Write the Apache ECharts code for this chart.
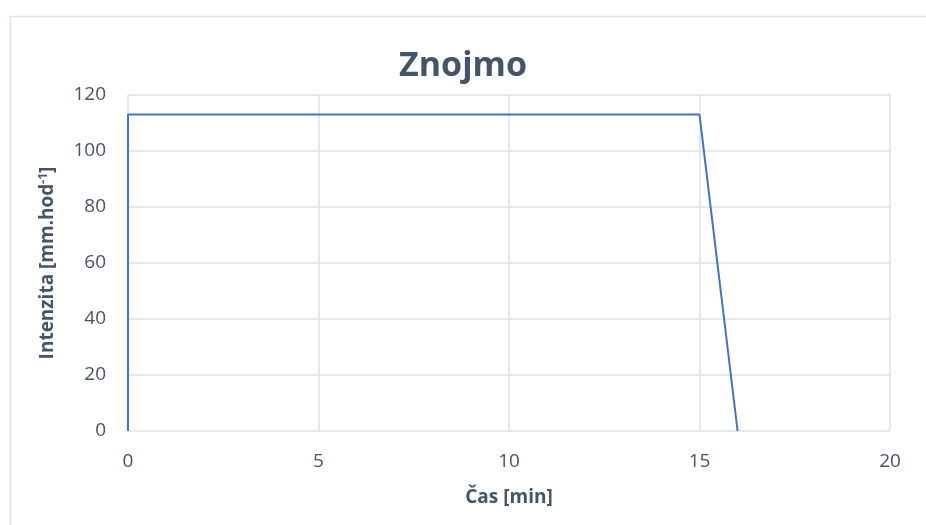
<!DOCTYPE html>
<html>
<head>
<meta charset="utf-8">
<script src="https://cdn.jsdelivr.net/npm/echarts@6/dist/echarts.min.js"></script>
<style>
html,body{margin:0;padding:0;background:#fff;}
#c{width:926px;height:525px;}
</style>
</head>
<body>
<div id="c"></div>
<script>
const titleText = "Znojmo";
const xName = "Čas [min]";
const timeMin = [0, 0, 15, 16];
const intensity = [0, 113, 113, 0];

const chart = echarts.init(document.getElementById('c'));
const txt = '#44546a';
const font = '"Open Sans", "Noto Sans", sans-serif';
chart.setOption({
  animation: false,
  backgroundColor: '#fff',
  graphic: [{
    type: 'rect', shape: {x: 10.5, y: 16.5, width: 940, height: 540},
    style: {fill: 'none', stroke: '#dde2ea', lineWidth: 1.5}, silent: true, z: -1
  }],
  title: {
    text: titleText, left: 'center', top: 44,
    textStyle: {color: txt, fontSize: 34, fontWeight: 'bold', fontFamily: font}
  },
  grid: {left: 128, right: 36, top: 95, bottom: 94},
  xAxis: {
    type: 'value', min: 0, max: 20, interval: 5,
    name: xName, nameLocation: 'middle', nameGap: 57,
    nameTextStyle: {color: txt, fontSize: 19, fontWeight: 'bold', fontFamily: font},
    axisLine: {show: false}, axisTick: {show: false},
    axisLabel: {color: txt, fontSize: 19, margin: 21, fontFamily: font},
    splitLine: {show: true, lineStyle: {color: '#dde2ea', width: 1.5}}
  },
  yAxis: {
    type: 'value', min: 0, max: 120, interval: 20,
    name: '{n|Intenzita [mm.hod}{s|-1}{n|]}', nameLocation: 'middle', nameGap: 70,
    nameTextStyle: {
      rich: {
        n: {color: txt, fontSize: 19, fontWeight: 'bold', fontFamily: font},
        s: {color: txt, fontSize: 12, fontWeight: 'bold', fontFamily: font, verticalAlign: 'top', padding: [0, 0, 8, 0]}
      }
    },
    axisLine: {show: false}, axisTick: {show: false},
    axisLabel: {color: txt, fontSize: 19, margin: 22, fontFamily: font},
    splitLine: {show: true, lineStyle: {color: '#dde2ea', width: 1.5}}
  },
  series: [{
    type: 'line',
    data: timeMin.map((t, i) => [t, intensity[i]]),
    showSymbol: false,
    lineStyle: {color: '#4472c4', width: 2},
    itemStyle: {color: '#4472c4'}
  }]
});
</script>
</body>
</html>
